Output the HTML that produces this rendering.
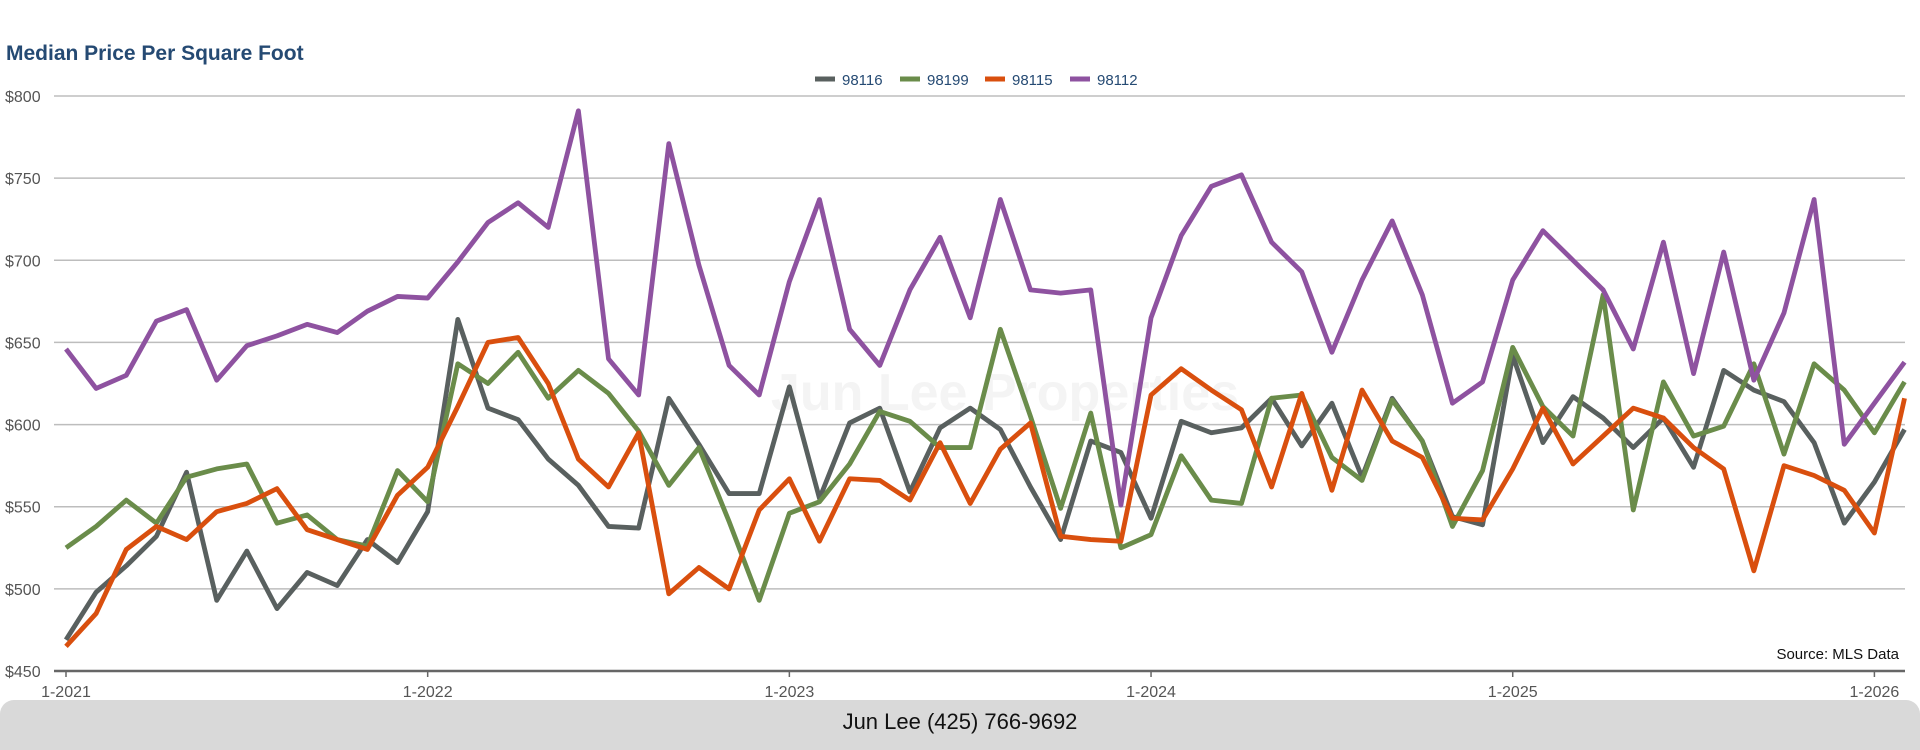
<!DOCTYPE html>
<html><head><meta charset="utf-8">
<style>
body{margin:0;width:1920px;height:750px;background:#fff;overflow:hidden;font-family:"Liberation Sans",sans-serif;position:relative}
#title{position:absolute;left:6px;top:42px;font-size:21px;font-weight:bold;color:#254a73}
#footer{position:absolute;left:0;top:700px;width:1920px;height:50px;background:#d9d9d9;border-radius:14px 14px 0 0;text-align:center;line-height:44px;font-size:22px;color:#111}
svg{position:absolute;left:0;top:0}
</style></head><body>
<div id="title">Median Price Per Square Foot</div>
<svg id="chart" width="1920" height="700"></svg>
<div id="footer">Jun Lee (425) 766-9692</div>
<script>
const seriesNames=["98116","98199","98115","98112"];
const seriesColors=["#59605f","#6a8c4a","#d94f0e","#8e52a0"];
const yTicks=[450,500,550,600,650,700,750,800];
const xTickLabels=["1-2021","1-2022","1-2023","1-2024","1-2025","1-2026"];
const s98116=[469,498,514,532,571,493,523,488,510,502,530,516,547,664,610,603,579,563,538,537,616,588,558,558,623,555,601,610,559,598,610,597,562,530,590,583,543,602,595,598,616,587,613,568,616,590,544,539,642,589,617,604,586,604,574,633,621,614,589,540,565,597];
const s98199=[525,538,554,540,568,573,576,540,545,530,526,572,553,637,625,644,616,633,619,596,563,586,541,493,546,553,576,608,602,586,586,658,605,549,607,525,533,581,554,552,616,618,580,566,615,590,538,572,647,611,593,679,548,626,593,599,637,582,637,621,595,626];
const s98115=[465,485,524,538,530,547,552,561,536,530,524,557,574,611,650,653,625,579,562,595,497,513,500,548,567,529,567,566,554,589,552,585,601,532,530,529,618,634,621,609,562,619,560,621,590,580,543,542,573,610,576,593,610,604,586,573,511,575,569,560,534,616];
const s98112=[646,622,630,663,670,627,648,654,661,656,669,678,677,699,723,735,720,791,640,618,771,697,636,618,687,737,658,636,682,714,665,737,682,680,682,551,665,715,745,752,711,693,644,688,724,679,613,626,688,718,700,682,646,711,631,705,627,668,737,588,613,638];
const allSeries=[s98116,s98199,s98115,s98112];
const NS="http://www.w3.org/2000/svg";
const svg=document.getElementById('chart');
const x0=66,monthW=30.14,yTop=96,yBot=671;
const xPos=i=>x0+monthW*i;
const yPos=v=>yBot-(v-450)/(800-450)*(yBot-yTop);
function mk(tag,attrs){const e=document.createElementNS(NS,tag);for(const k in attrs)e.setAttribute(k,attrs[k]);svg.appendChild(e);return e;}
const wm=mk('text',{x:1005,y:410,'font-size':52,'font-weight':'bold',fill:'#f4f4f4','text-anchor':'middle'});
wm.textContent='Jun Lee Properties';


yTicks.forEach(v=>{
  if(v>450){const g=mk('line',{x1:54,x2:1905,y1:yPos(v),y2:yPos(v),stroke:'#bdbdbd','stroke-width':1.5});
  
  }
  const t=mk('text',{x:5,y:yPos(v)+6,'font-size':16,fill:'#555'});
  t.textContent='$'+v;
  
  
});
const ax=mk('line',{x1:54,x2:1905,y1:yBot,y2:yBot,stroke:'#666','stroke-width':2.5});


xTickLabels.forEach((l,k)=>{
  const x=xPos(k*12);
  const tk=mk('line',{x1:x,x2:x,y1:yBot,y2:yBot+6,stroke:'#666','stroke-width':1.5});
  
  
  const t=mk('text',{x:x,y:697,'font-size':16,fill:'#555','text-anchor':'middle'});
  t.textContent=l;
  
  
});
allSeries.forEach((s,k)=>{
  const p=mk('polyline',{points:s.map((v,i)=>xPos(i)+','+yPos(v)).join(' '),fill:'none',stroke:seriesColors[k],'stroke-width':4.8,'stroke-linejoin':'round'});
  
  
});
let lx=815;
seriesNames.forEach((n,k)=>{
  const sw=mk('line',{x1:lx,x2:lx+20,y1:79,y2:79,stroke:seriesColors[k],'stroke-width':5});
  
  
  const t=mk('text',{x:lx+27,y:85,'font-size':15,fill:'#254a73'});
  t.textContent=n;
  
  
  lx+=85;
});
const src=mk('text',{x:1899,y:659,'font-size':15,fill:'#111','text-anchor':'end'});
src.textContent='Source: MLS Data';


</script>
</body></html>
